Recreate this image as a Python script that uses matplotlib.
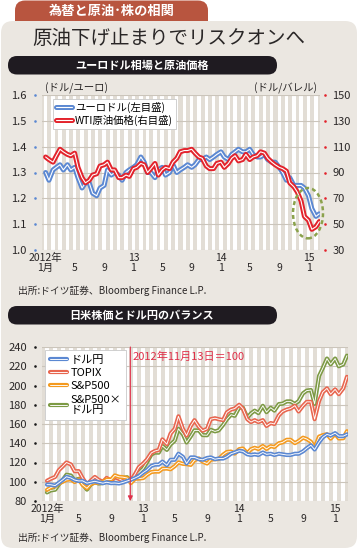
import matplotlib
matplotlib.use("Agg")
import matplotlib.pyplot as plt
import matplotlib.patheffects as pe
from matplotlib.patches import FancyBboxPatch, Ellipse
from matplotlib.transforms import blended_transform_factory
import pandas as pd

JP = ["Noto Sans CJK JP", "DejaVu Sans"]
NUM = ["Liberation Sans Narrow", "Noto Sans CJK JP", "DejaVu Sans"]
plt.rcParams["font.family"] = JP

# semi-monthly observations, Jan 2012 - Feb 2015
DATES = pd.date_range("2012-01-01", "2015-02-15", freq="SMS")

EURUSD = [
    1.30, 1.27, 1.31, 1.32, 1.33, 1.31, 1.33, 1.31, 1.32, 1.28, 1.24, 1.26,
    1.26, 1.22, 1.21, 1.24, 1.25, 1.31, 1.29, 1.30, 1.29, 1.27, 1.30, 1.31,
    1.32, 1.33, 1.36, 1.34, 1.30, 1.30, 1.28, 1.31, 1.32, 1.29, 1.30, 1.33,
    1.30, 1.31, 1.32, 1.33, 1.32, 1.33, 1.35, 1.35, 1.36, 1.35, 1.36, 1.37,
    1.38, 1.36, 1.35, 1.37, 1.38, 1.39, 1.38, 1.38, 1.39, 1.37, 1.36, 1.36,
    1.37, 1.35, 1.34, 1.34, 1.32, 1.30, 1.27, 1.28, 1.25, 1.25, 1.25, 1.24,
    1.21, 1.16, 1.13, 1.14,
]
WTI = [
    102, 100, 98, 103, 108, 106, 104, 103, 105, 94, 86, 82,
    84, 88, 89, 95, 96, 98, 92, 92, 86, 86, 88, 87,
    93, 94, 97, 96, 90, 93, 97, 88, 92, 94, 93, 98,
    101, 106, 107, 107, 108, 105, 102, 101, 95, 93, 93, 97,
    98, 94, 97, 101, 103, 99, 100, 104, 100, 102, 103, 106,
    105, 101, 98, 96, 94, 93, 91, 82, 79, 75, 68, 56,
    53, 46, 48, 52,
]

# 2012-11-13 = 100
USDJPY_IDX = [
    97.0, 96.9, 96.0, 98.9, 102.0, 105.2, 103.9, 101.8, 100.8, 101.0, 98.5, 99.5,
    100.5, 99.5, 98.5, 99.5, 98.5, 98.7, 98.2, 99.2, 100.8, 102.0, 103.9, 105.8,
    109.6, 112.1, 116.5, 117.8, 117.8, 120.9, 117.1, 122.8, 122.8, 129.1, 125.9, 119.0,
    125.3, 125.3, 123.4, 122.8, 124.7, 125.3, 123.4, 124.1, 124.1, 125.9, 129.1, 130.4,
    132.2, 131.6, 128.5, 127.8, 128.5, 127.8, 130.4, 128.5, 129.1, 127.8, 129.1, 128.5,
    127.8, 127.8, 129.1, 129.1, 131.6, 134.8, 137.9, 133.5, 141.1, 146.1, 149.2, 148.0,
    150.5, 147.4, 147.4, 149.2,
]
TOPIX_IDX = [
    101, 103, 105, 112, 116, 120, 118, 111, 111, 104, 97, 101,
    105, 102, 100, 104, 101, 105, 103, 101, 103, 101, 108, 115,
    119, 123, 130, 132, 133, 144, 139, 150, 155, 168, 155, 148,
    158, 164, 157, 153, 155, 165, 166, 165, 164, 172, 175, 176,
    180, 176, 165, 162, 164, 162, 164, 158, 161, 160, 169, 173,
    175, 176, 179, 173, 179, 183, 183, 165, 184, 193, 197, 191,
    196, 191, 197, 209,
]
SP500_IDX = [
    91.6, 93.9, 95.5, 98.3, 100.0, 102.0, 102.5, 99.7, 102.3, 96.8, 93.2, 97.5,
    99.1, 98.7, 100.1, 102.3, 102.3, 106.6, 105.1, 104.8, 103.9, 98.6, 103.1, 103.3,
    103.8, 107.1, 110.1, 110.6, 110.5, 113.5, 113.7, 113.0, 116.2, 120.1, 118.6, 118.3,
    117.5, 122.4, 124.2, 120.9, 118.9, 122.9, 123.4, 123.6, 128.2, 130.9, 131.4, 129.2,
    133.9, 134.5, 129.7, 133.8, 135.3, 134.0, 137.2, 134.1, 137.0, 136.1, 140.0, 140.9,
    143.6, 143.6, 140.1, 142.3, 145.8, 144.4, 141.6, 135.5, 146.9, 148.4, 149.4, 144.8,
    149.8, 145.0, 145.2, 152.5,
]
SP500_JPY_IDX = [
    88.9, 91.0, 91.7, 97.2, 102.0, 107.3, 106.5, 101.5, 103.1, 97.8, 91.8, 97.0,
    99.6, 98.2, 98.6, 101.8, 100.8, 105.2, 103.2, 104.0, 104.7, 100.6, 107.1, 109.3,
    113.8, 120.1, 128.3, 130.3, 130.2, 137.2, 133.1, 138.8, 142.7, 155.0, 149.3, 140.8,
    147.2, 153.4, 153.3, 148.5, 148.3, 154.0, 152.3, 153.4, 159.1, 164.8, 169.6, 168.5,
    177.0, 177.0, 166.7, 171.0, 173.9, 171.3, 178.9, 172.3, 176.9, 173.9, 180.7, 181.1,
    183.5, 183.5, 180.9, 183.7, 191.9, 194.7, 195.3, 180.9, 210.0, 218.0, 228.0, 222.0,
    228.0, 220.0, 222.0, 231.0,
]

BASE_DATE = pd.Timestamp("2012-11-13")

X_TICKS = pd.to_datetime([
    "2012-01-01", "2012-05-01", "2012-09-01", "2013-01-01", "2013-05-01",
    "2013-09-01", "2014-01-01", "2014-05-01", "2014-09-01", "2015-01-01",
])
X_LABELS = ["2012年\n1月", "\n5", "\n9", "13\n1", "\n5", "\n9", "14\n1", "\n5", "\n9", "15\n1"]

EUR_TICKS = [1.0, 1.1, 1.2, 1.3, 1.4, 1.5, 1.6]
WTI_TICKS = [30, 50, 70, 90, 110, 130, 150]
IDX_TICKS = [80, 100, 120, 140, 160, 180, 200, 220, 240]

STYLE = {
    "panel":    "#ebe7e1",
    "plot_bg":  "#e2ddd5",
    "grid":     "#cbc5bb",
    "tab":      "#b8553f",
    "bar":      "#1f1b21",
    "text":     "#2a2727",
    "blue":     "#5b88d2",
    "red":      "#e3232c",
    "topix":    "#e8664f",
    "sp":       "#f49a1f",
    "green":    "#7d9a45",
    "ellipse":  "#8ba24c",
    "marker":   "#e0304a",
}


def double_line(ax, x, y, color, lw, label=None):
    ax.plot(x, y, color="white", lw=lw * 0.22, label=label,
            solid_capstyle="round", solid_joinstyle="round", zorder=3,
            path_effects=[pe.Stroke(linewidth=lw, foreground=color,
                                    capstyle="round", joinstyle="round"),
                          pe.Normal()])


def style_plot(ax, xmin, xmax):
    ax.set_facecolor(STYLE["plot_bg"])
    for m in pd.date_range("2011-12-01", "2015-03-01", freq="MS"):
        ax.axvspan(m - pd.Timedelta(days=7), m + pd.Timedelta(days=7),
                   color="white", lw=0, zorder=0)
    for s in ax.spines.values():
        s.set_visible(False)
    ax.grid(axis="y", color=STYLE["grid"], lw=0.8, zorder=1)
    ax.set_axisbelow(True)
    ax.set_xlim(pd.Timestamp(xmin), pd.Timestamp(xmax))
    ax.set_xticks(X_TICKS)
    ax.set_xticklabels(X_LABELS, family=NUM, fontsize=7.5, color=STYLE["text"],
                       linespacing=1.05)
    ax.tick_params(axis="x", length=0, pad=2)
    ax.tick_params(axis="y", length=0, labelsize=8, labelcolor=STYLE["text"])


def tick_dots(ax, ticks, xpos, color):
    tr = blended_transform_factory(ax.transAxes, ax.transData)
    ax.scatter([xpos] * len(ticks), ticks, s=3.5, color=color, transform=tr,
               clip_on=False, zorder=5, lw=0)


fig = plt.figure(figsize=(3.6, 5.49), dpi=100)
fig.patch.set_facecolor("white")

bg = fig.add_axes([0, 0, 1, 1])
bg.set_xlim(0, 360)
bg.set_ylim(549, 0)
bg.axis("off")
bg.add_patch(FancyBboxPatch((15, 0.5), 193, 32, boxstyle="round,pad=0,rounding_size=10",
                            fc=STYLE["tab"], ec="none", zorder=1))
bg.add_patch(FancyBboxPatch((1, 21), 356, 527, boxstyle="round,pad=0,rounding_size=12",
                            fc=STYLE["panel"], ec="none", zorder=2))
bg.text(112, 11, "為替と原油･株の相関", color="white", fontsize=9.5, fontweight="bold",
        ha="center", va="center", zorder=3)
bg.text(169, 38, "原油下げ止まりでリスクオンへ", color=STYLE["text"], fontsize=14,
        ha="center", va="center", zorder=3)
for y0, title in [(56, "ユーロドル相場と原油価格"), (306, "日米株価とドル円のバランス")]:
    bg.add_patch(FancyBboxPatch((8, y0), 269, 18.5, boxstyle="round,pad=0,rounding_size=9",
                                fc=STYLE["bar"], ec="none", zorder=3))
    bg.text(142, y0 + 9.5, title, color="white", fontsize=8, fontweight="bold",
            ha="center", va="center", zorder=4)
for y0 in [291, 538]:
    bg.text(18, y0, "出所:ドイツ証券、Bloomberg Finance L.P.", color=STYLE["text"],
            fontsize=7, ha="left", va="center", zorder=3)

# --- chart 1: EUR/USD and WTI ---
ax1 = fig.add_axes([42 / 360, 1 - 250 / 549, 278 / 360, 155 / 549])
style_plot(ax1, "2011-12-17", "2015-02-18")
ax1.set_ylim(1.0, 1.6)
ax1.set_yticks(EUR_TICKS)
ax1.set_yticklabels([f"{v:.1f}" for v in EUR_TICKS], family=NUM)
ax1.tick_params(axis="y", pad=11)
tick_dots(ax1, EUR_TICKS, -7 / 278, STYLE["blue"])
double_line(ax1, DATES, EURUSD, STYLE["blue"], 3.6, "ユーロドル(左目盛)")

ax1r = ax1.twinx()
ax1r.set_ylim(30, 150)
ax1r.set_yticks(WTI_TICKS)
ax1r.set_yticklabels([str(v) for v in WTI_TICKS], family=NUM)
ax1r.tick_params(axis="y", length=0, pad=9, labelsize=8, labelcolor=STYLE["text"])
for s in ax1r.spines.values():
    s.set_visible(False)
tick_dots(ax1r, WTI_TICKS, 1 + 5 / 278, STYLE["red"])
double_line(ax1r, DATES, WTI, STYLE["red"], 3.6, "WTI原油価格(右目盛)")
ax1r.add_patch(Ellipse((pd.Timestamp("2014-12-30"), 58.5), 125, 39, fill=False,
                       ec=STYLE["ellipse"], lw=1.8, ls=(0, (1.6, 1.2)), clip_on=False,
                       zorder=4))
ax1r.text(0.01, 1.045, "(ドル/ユーロ)", transform=ax1r.transAxes, fontsize=7.5,
          color=STYLE["text"], ha="left", va="center")
ax1r.text(0.99, 1.045, "(ドル/バレル)", transform=ax1r.transAxes, fontsize=7.5,
          color=STYLE["text"], ha="right", va="center")
h1, l1 = ax1.get_legend_handles_labels()
h2, l2 = ax1r.get_legend_handles_labels()
leg1 = ax1r.legend(h1 + h2, l1 + l2, loc="upper left", bbox_to_anchor=(0.04, 0.975),
                   fontsize=7.5, frameon=True, fancybox=False, framealpha=1,
                   facecolor="white", edgecolor="#c9c9c9", handlelength=1.5,
                   handletextpad=0.3, borderpad=0.3, labelspacing=0.15, borderaxespad=0)
leg1.get_frame().set_linewidth(0.6)

# --- chart 2: Japan/US stocks and USD/JPY ---
ax2 = fig.add_axes([42 / 360, 1 - 501 / 549, 306 / 360, 154 / 549])
style_plot(ax2, "2011-12-13", "2015-02-19")
ax2.set_ylim(80, 240)
ax2.set_yticks(IDX_TICKS)
ax2.set_yticklabels([str(v) for v in IDX_TICKS], family=NUM)
ax2.tick_params(axis="y", pad=11)
tick_dots(ax2, IDX_TICKS, -7 / 306, "#1a1a1a")

double_line(ax2, DATES, SP500_JPY_IDX, STYLE["green"], 3.0, "S&P500×\nドル円")
double_line(ax2, DATES, TOPIX_IDX, STYLE["topix"], 3.0, "TOPIX")
double_line(ax2, DATES, SP500_IDX, STYLE["sp"], 3.0, "S&P500")
double_line(ax2, DATES, USDJPY_IDX, STYLE["blue"], 3.0, "ドル円")

ax2.annotate("", xy=(BASE_DATE, 80), xytext=(BASE_DATE, 240),
             arrowprops=dict(arrowstyle="-|>", color=STYLE["marker"], lw=0.8,
                             mutation_scale=7, shrinkA=0, shrinkB=0), zorder=4)
ax2.text(BASE_DATE + pd.Timedelta(days=9), 229.5, "2012年11月13日＝100",
         color=STYLE["marker"], fontsize=8, ha="left", va="center", zorder=4)

h, l = ax2.get_legend_handles_labels()
order = [3, 1, 2, 0]
leg2 = ax2.legend([h[i] for i in order], [l[i] for i in order], loc="upper left",
                  bbox_to_anchor=(0.01, 0.98), fontsize=8, frameon=True, fancybox=False,
                  framealpha=1, facecolor="white", edgecolor="#c9c9c9", handlelength=1.6,
                  handletextpad=0.3, borderpad=0.4, labelspacing=0.3, borderaxespad=0)
leg2.get_frame().set_linewidth(0.6)
for t in leg2.get_texts():
    t.set_linespacing(1.1)

fig.savefig("out.png", dpi=100, facecolor="white")
